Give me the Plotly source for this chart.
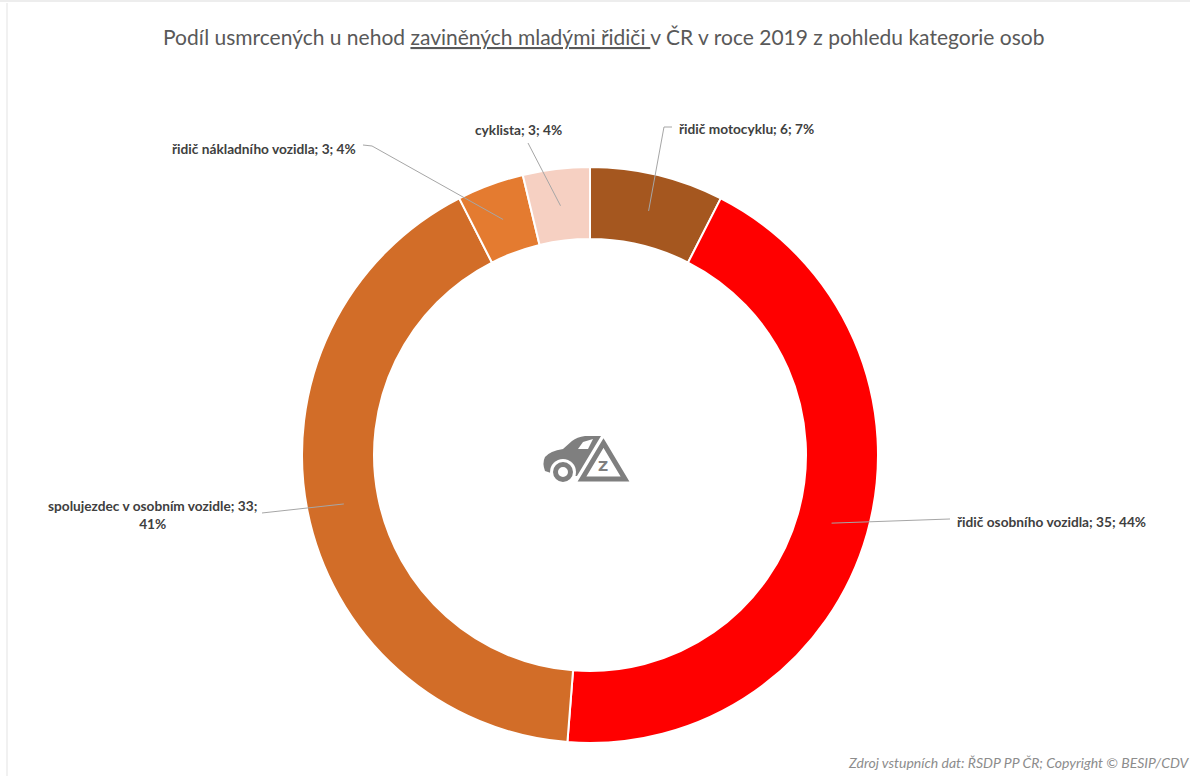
import math
import plotly.graph_objects as go

categories = ["řidič motocyklu", "řidič osobního vozidla", "spolujezdec v osobním vozidle",
              "řidič nákladního vozidla", "cyklista"]
values = [6, 35, 33, 3, 3]
percents = [7, 44, 41, 4, 4]
colors = ["#A5571F", "#FF0000", "#D26D28", "#E47B30", "#F6D0C2"]

W, H = 1190, 776
CX, CY, R = 590, 455, 288
HOLE = 0.75
ANCHOR_R = 251


def px(x):
    return x / W


def py(y):
    return 1 - y / H


def pt(p):
    return f"{px(p[0]):.5f},{py(p[1]):.5f}"


def path(points, close=False):
    s = "M " + " L ".join(pt(p) for p in points)
    return s + (" Z" if close else "")


fig = go.Figure(go.Pie(
    labels=categories, values=values, sort=False, direction="clockwise", rotation=0,
    hole=HOLE, textinfo="none", showlegend=False,
    marker=dict(colors=colors, line=dict(color="white", width=2)),
    domain=dict(x=[px(CX - R), px(CX + R)], y=[py(CY + R), py(CY - R)]),
))

placement = [
    dict(x=746, y=129, two=False, via=[(672, 127), (664, 127)]),
    dict(x=1051, y=521, two=False, via=[(950, 519)]),
    dict(x=152, y=514, two=True, via=[(262, 513)]),
    dict(x=264, y=148, two=False, via=[(363, 145), (372, 146)]),
    dict(x=518, y=130, two=False, via=[(528, 143)]),
]

shapes = []
annotations = []
total = sum(values)
cum = 0
for name, v, p, pl in zip(categories, values, percents, placement):
    mid = (cum + v / 2) / total * 2 * math.pi
    cum += v
    anchor = (CX + ANCHOR_R * math.sin(mid), CY - ANCHOR_R * math.cos(mid))
    shapes.append(dict(type="path", xref="paper", yref="paper", path=path(pl["via"] + [anchor]),
                       line=dict(color="#A6A6A6", width=1)))
    text = f"{name}; {v};<br>{p}%" if pl["two"] else f"{name}; {v}; {p}%"
    annotations.append(dict(x=px(pl["x"]), y=py(pl["y"]), xref="paper", yref="paper", text=text,
                            showarrow=False, xanchor="center", yanchor="middle", align="center",
                            font=dict(family="Lato", size=13.7, color="#404040", weight="bold")))

annotations.append(dict(x=px(603.5), y=py(36), xref="paper", yref="paper", showarrow=False,
                        xanchor="center", yanchor="middle",
                        text="Podíl usmrcených u nehod <u>zaviněných mladými řidiči </u>v ČR v roce 2019 z pohledu kategorie osob",
                        font=dict(family="Lato", size=21, color="#595959")))
annotations.append(dict(x=px(1190), y=py(762), xref="paper", yref="paper", showarrow=False,
                        xanchor="right", yanchor="middle", xshift=2,
                        text="<i>Zdroj vstupních dat: ŘSDP PP ČR; Copyright © BESIP/CDV</i>",
                        font=dict(family="Lato", size=14, color="#8C8C8C")))

shapes.append(dict(type="line", xref="paper", yref="paper", x0=px(7), x1=px(7), y0=py(776), y1=py(3),
                   line=dict(color="#EDEDED", width=1.5)))
shapes.append(dict(type="line", xref="paper", yref="paper", x0=0, x1=1, y0=py(1), y1=py(1),
                   line=dict(color="#EDEDED", width=2)))

# centre icon
ICON = "#7F7F7F"
car = ("M " + pt((545, 471)) + " Q " + pt((542, 463)) + " " + pt((545, 457))
       + " Q " + pt((550, 451)) + " " + pt((563, 449))
       + " L " + pt((572, 441)) + " Q " + pt((577, 437)) + " " + pt((585, 436))
       + " L " + pt((601, 436)) + " L " + pt((577, 476)) + " L " + pt((560, 476)) + " Z")
shapes.append(dict(type="path", xref="paper", yref="paper", fillcolor=ICON, line=dict(width=0), path=car))
shapes.append(dict(type="path", xref="paper", yref="paper", fillcolor="white", line=dict(width=0),
                   path=path([(578, 449), (583, 442), (593, 439), (588, 449)], True)))
shapes.append(dict(type="circle", xref="paper", yref="paper", fillcolor="white", line=dict(width=0),
                   x0=px(550), x1=px(576), y0=py(485), y1=py(459)))
shapes.append(dict(type="circle", xref="paper", yref="paper", fillcolor="white",
                   line=dict(color=ICON, width=5),
                   x0=px(555.5), x1=px(570.5), y0=py(479.5), y1=py(464.5)))
shapes.append(dict(type="path", xref="paper", yref="paper", fillcolor="white",
                   line=dict(color="white", width=8),
                   path=path([(603, 444), (624, 480), (582, 480)], True)))
shapes.append(dict(type="path", xref="paper", yref="paper", fillcolor="white",
                   line=dict(color=ICON, width=5),
                   path=path([(603.5, 443), (625, 479), (582, 479)], True)))
annotations.append(dict(x=px(603), y=py(466), xref="paper", yref="paper", showarrow=False,
                        xanchor="center", yanchor="middle", text="<b>Z</b>",
                        font=dict(family="DejaVu Sans", size=14, color="#7F7F7F")))

fig.update_layout(width=W, height=H, autosize=False, margin=dict(l=0, r=0, t=0, b=0),
                  paper_bgcolor="white", plot_bgcolor="white", shapes=shapes, annotations=annotations)
fig.write_html("out.html", post_script="document.body.style.margin='0';",
               config=dict(displayModeBar=False))
